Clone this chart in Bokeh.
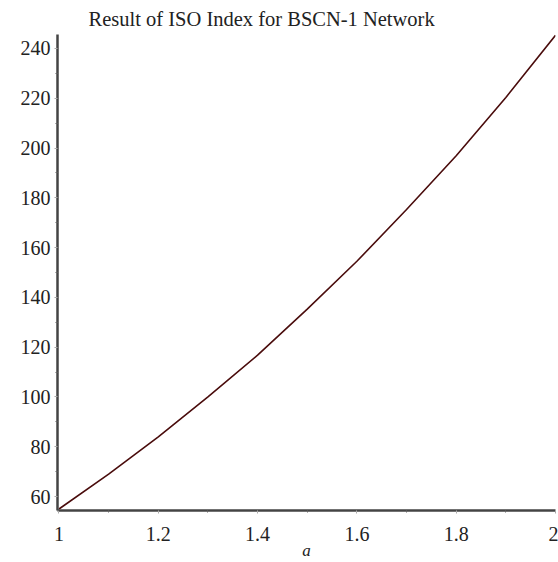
from bokeh.plotting import figure
from bokeh.embed import file_html
from bokeh.resources import INLINE
from bokeh.models import Range1d, FixedTicker, CustomJSTickFormatter

a_vals = [1.0, 1.1, 1.2, 1.3, 1.4, 1.5, 1.6, 1.7, 1.8, 1.9, 2.0]
iso_vals = [55.0, 69.0, 84.0, 100.0, 116.8, 135.3, 154.5, 175.3, 196.9, 220.3, 245.3]
x_ticks = [1, 1.2, 1.4, 1.6, 1.8, 2]
y_ticks = [60, 80, 100, 120, 140, 160, 180, 200, 220, 240]

p = figure(width=558, height=562, output_backend="svg", toolbar_location=None,
           title="Result of ISO Index for BSCN-1 Network",
           x_range=Range1d(0.997, 2.0), y_range=Range1d(54.4, 245.6),
           min_border_left=57, min_border_right=3, min_border_top=33, min_border_bottom=50)

p.title.text_font = "Liberation Serif"
p.title.text_font_size = "20.5px"
p.title.text_font_style = "normal"
p.title.align = "left"
p.title.offset = 31
p.title.standoff = 10
p.title.text_color = "#222222"

p.line(a_vals, iso_vals, line_color="#4a0c0c", line_width=1.6)

p.xgrid.visible = False
p.ygrid.visible = False
p.outline_line_color = None

for ax in (p.xaxis[0], p.yaxis[0]):
    ax.axis_line_color = "#444444"
    ax.axis_line_width = 2.5
    ax.major_tick_line_color = "#aaaaaa"
    ax.major_tick_out = 3
    ax.major_tick_in = 0
    ax.minor_tick_line_color = "#666666"
    ax.minor_tick_out = 2
    ax.minor_tick_in = 0
    ax.major_label_text_font = "Liberation Serif"
    ax.major_label_text_font_size = "20px"
    ax.major_label_text_color = "#222222"

p.xaxis[0].ticker = FixedTicker(ticks=x_ticks, minor_ticks=[1.1, 1.3, 1.5, 1.7, 1.9])
p.yaxis[0].ticker = FixedTicker(ticks=y_ticks, minor_ticks=[70, 90, 110, 130, 150, 170, 190, 210, 230])
p.xaxis[0].formatter = CustomJSTickFormatter(code="return (Math.abs(tick - Math.round(tick)) < 1e-9) ? String(Math.round(tick)) : tick.toFixed(1);")
p.xaxis[0].major_label_standoff = 13
p.yaxis[0].major_label_standoff = 4

p.xaxis[0].axis_label = "a"
p.xaxis[0].axis_label_text_font = "Liberation Serif"
p.xaxis[0].axis_label_text_font_style = "italic"
p.xaxis[0].axis_label_text_font_size = "17px"
p.xaxis[0].axis_label_text_color = "#222222"
p.xaxis[0].axis_label_standoff = -3

open("out.html", "w").write(file_html(p, INLINE))
